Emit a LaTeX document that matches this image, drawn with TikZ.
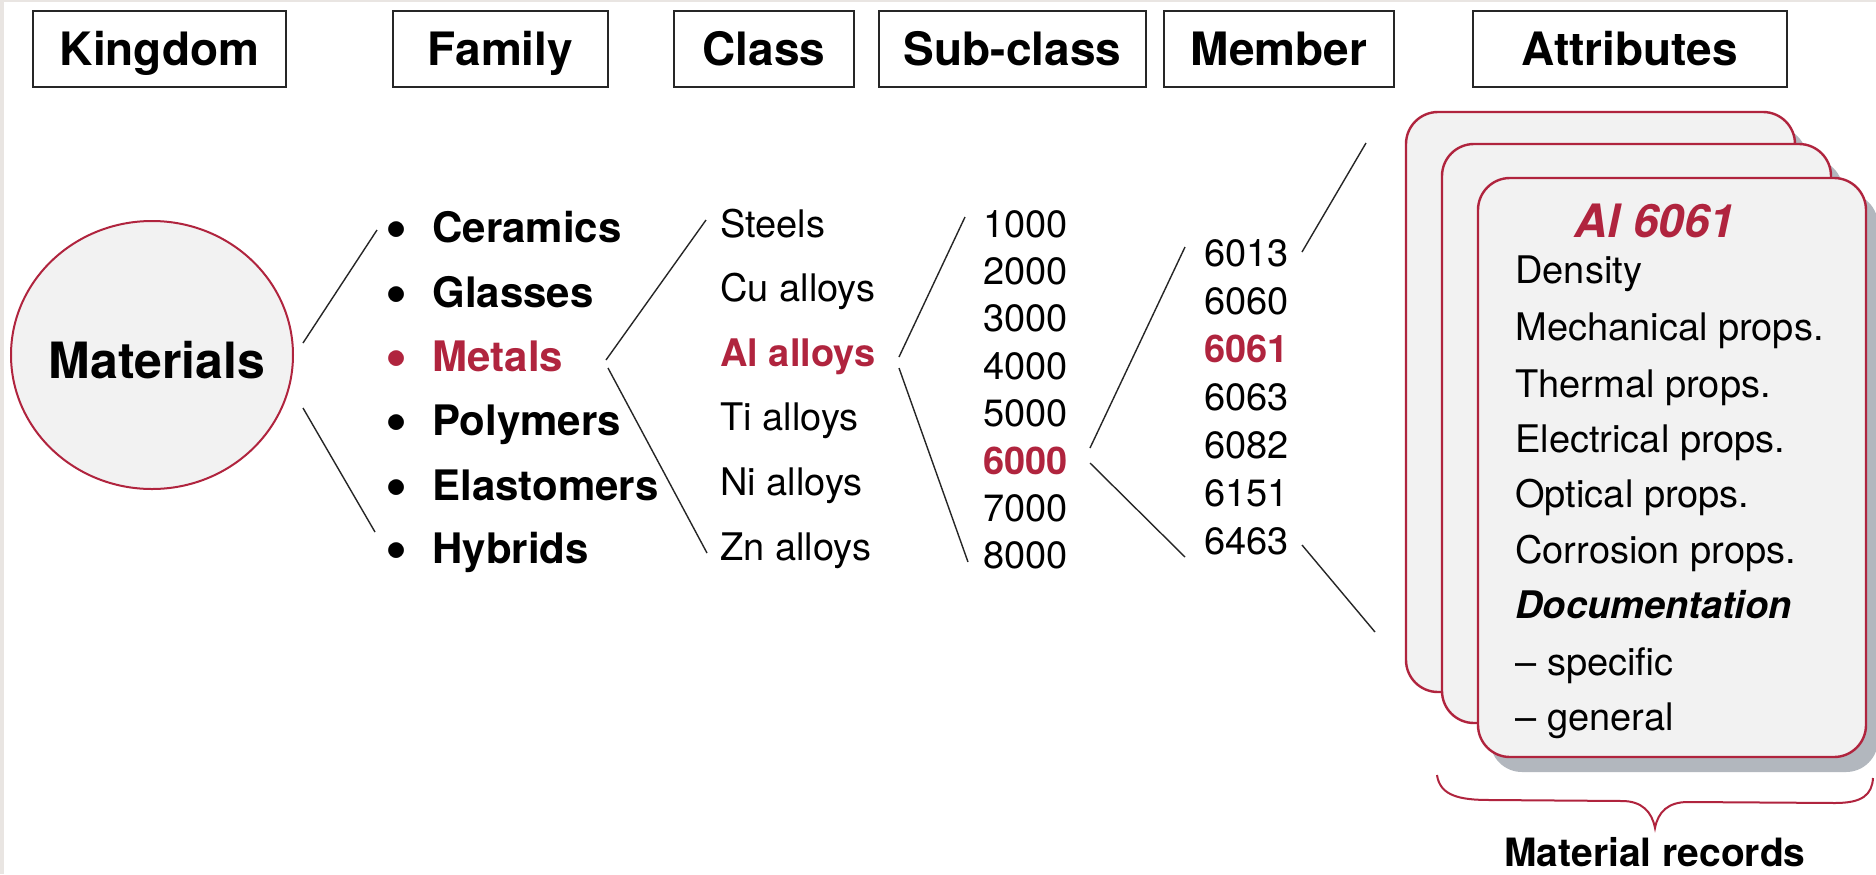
\documentclass[tikz,border=0pt]{standalone}
\usepackage{graphicx}
\usepackage{fontspec}
\setmainfont{TeX Gyre Heros}
\usetikzlibrary{shapes.geometric}

\definecolor{crimson}{RGB}{176,36,62}
\definecolor{cardfill}{RGB}{242,242,242}
\definecolor{cardshade}{RGB}{178,183,190}
\definecolor{edgegray}{RGB}{233,229,226}

% enlarged bullet hung to the left of a family name
\newcommand\famdot{\llap{\raisebox{-3.4pt}{\scalebox{1.5}{\textbullet}}\hspace{12.5pt}}}

\tikzset{
  header/.style={draw=black!85, line width=0.8pt, inner sep=0pt,
    minimum height=38pt, text height=16.5pt, text depth=0.5pt,
    font=\fontsize{23}{27}\selectfont\bfseries},
  link/.style={line width=0.7pt, draw=black!85},
  famtext/.style={anchor=base west, inner sep=0pt,
    font=\fontsize{21}{25}\selectfont\bfseries},
  item/.style={anchor=base west, inner sep=0pt,
    font=\fontsize{19}{23}\selectfont},
  pick/.style={text=crimson, font=\fontsize{19}{23}\selectfont\bfseries},
  card/.style={draw=crimson, line width=1.2pt, fill=cardfill,
    rounded corners=16pt, inner sep=0pt},
  shade/.style={fill=cardshade, rounded corners=16pt},
}

\begin{document}
\begin{tikzpicture}[x=0.5pt,y=-0.5pt]
\useasboundingbox (0,0) rectangle (1876,874);
\fill[white] (0,0) rectangle (1876,874);
\fill[edgegray] (0,0) rectangle (4,874);
\fill[edgegray] (0,0) rectangle (1876,2);

% ---- column headings
\node[header, minimum width=126.5pt] (hKingdom)  at (159.5,49) {Kingdom};
\node[header, minimum width=107.5pt] (hFamily)   at (500.5,49) {Family};
\node[header, minimum width=90pt]    (hClass)    at (764,49)   {Class};
\node[header, minimum width=133.5pt] (hSub)      at (1012.5,49){Sub-class};
\node[header, minimum width=115pt]   (hMember)   at (1279,49)  {Member};
\node[header, minimum width=157pt]   (hAttr)     at (1630,49)  {Attributes};

% ---- kingdom
\node[ellipse, draw=crimson, line width=1pt, fill=cardfill,
      minimum width=141pt, minimum height=134pt, inner sep=0pt] (mat) at (152,355) {};
\node[anchor=base, inner sep=0pt, font=\fontsize{25}{30}\selectfont\bfseries]
      (matname) at (157,378) {Materials};

% ---- families
\node[famtext] (cer) at (432,242) {\famdot Ceramics};
\node[famtext] (gla) at (432,307) {\famdot Glasses};
\node[famtext, text=crimson] (met) at (432,371) {\famdot Metals};
\node[famtext] (pol) at (432,435) {\famdot Polymers};
\node[famtext] (ela) at (432,500) {\famdot Elastomers};
\node[famtext] (hyb) at (432,563) {\famdot Hybrids};

% ---- classes
\node[item] (steel) at (720,237) {Steels};
\node[item] (cu)    at (720,301) {Cu alloys};
\node[item, pick] (al) at (720,366) {Al alloys};
\node[item] (ti)    at (720,430) {Ti alloys};
\node[item] (ni)    at (720,495) {Ni alloys};
\node[item] (zn)    at (720,560) {Zn alloys};

% ---- sub-classes
\node[item] (s1) at (983,237)   {1000};
\node[item] (s2) at (983,284.4) {2000};
\node[item] (s3) at (983,331.8) {3000};
\node[item] (s4) at (983,379.2) {4000};
\node[item] (s5) at (983,426.6) {5000};
\node[item, pick] (s6) at (983,474) {6000};
\node[item] (s7) at (983,521.4) {7000};
\node[item] (s8) at (983,568.8) {8000};

% ---- members
\node[item] (m1) at (1204,266) {6013};
\node[item] (m2) at (1204,314) {6060};
\node[item, pick] (m3) at (1204,362) {6061};
\node[item] (m4) at (1204,410) {6063};
\node[item] (m5) at (1204,458) {6082};
\node[item] (m6) at (1204,506) {6151};
\node[item] (m7) at (1204,554) {6463};

% ---- fan-out line ends
\coordinate (matHi) at (303,343);  \coordinate (famHi) at (377,230);
\coordinate (matLo) at (303,408);  \coordinate (famLo) at (375,532);
\coordinate (metHi) at (606,360);  \coordinate (clsHi) at (706,220);
\coordinate (metLo) at (608,368);  \coordinate (clsLo) at (707,553);
\coordinate (alHi)  at (899,357);  \coordinate (subHi) at (965,217);
\coordinate (alLo)  at (899,368);  \coordinate (subLo) at (968,562);
\coordinate (sixHi) at (1090,448); \coordinate (memHi) at (1185,247);
\coordinate (sixLo) at (1090,463); \coordinate (memLo) at (1185,557);
\coordinate (mTop)  at (1302,252); \coordinate (recHi) at (1366,143);
\coordinate (mBot)  at (1302,545); \coordinate (recLo) at (1375,632);

\draw[link] (matHi) -- (famHi);  \draw[link] (matLo) -- (famLo);
\draw[link] (metHi) -- (clsHi);  \draw[link] (metLo) -- (clsLo);
\draw[link] (alHi)  -- (subHi);  \draw[link] (alLo)  -- (subLo);
\draw[link] (sixHi) -- (memHi);  \draw[link] (sixLo) -- (memLo);
\draw[link] (mTop)  -- (recHi);  \draw[link] (mBot)  -- (recLo);

% ---- stacked material records
\begin{scope}
  \clip (1445,0) rectangle (1876,874);
  \fill[shade] (1418,127) rectangle (1807,707);
\end{scope}
\node[card, minimum width=194.5pt, minimum height=290pt] (recA) at (1600.5,402) {};
\begin{scope}
  \clip (1481,0) rectangle (1876,874);
  \fill[shade] (1454,159) rectangle (1843,738);
\end{scope}
\node[card, minimum width=194.5pt, minimum height=289.5pt] (recB) at (1636.5,433.5) {};
\fill[shade] (1490,193) rectangle (1878,772);
\node[card, minimum width=194pt, minimum height=289.5pt] (recC) at (1672,467.5) {};

\node[anchor=base, inner sep=0pt, text=crimson,
      font=\fontsize{23}{27}\selectfont\bfseries\itshape] (title) at (1655,237) {Al 6061};
\node[item] (a1) at (1515,283) {Density};
\node[item] (a2) at (1515,340) {Mechanical props.};
\node[item] (a3) at (1515,397) {Thermal props.};
\node[item] (a4) at (1515,452) {Electrical props.};
\node[item] (a5) at (1515,507) {Optical props.};
\node[item] (a6) at (1515,563) {Corrosion props.};
\node[item, font=\fontsize{19}{23}\selectfont\bfseries\itshape] (a7) at (1515,618) {Documentation};
\node[item] (a8) at (1515,675) {– specific};
\node[item] (a9) at (1515,730) {– general};

% ---- brace under the records
\draw[crimson, line width=1pt]
  (1437,775) .. controls (1440,796) and (1460,800) .. (1490,800)
  -- (1622,801) .. controls (1642,801) and (1652,812) .. (1655,828)
  .. controls (1658,812) and (1668,802) .. (1688,802)
  -- (1835,803) .. controls (1862,803) and (1872,795) .. (1873,778);
\node[anchor=base, inner sep=0pt, font=\fontsize{19.5}{23}\selectfont\bfseries]
      (recname) at (1655,866) {Material records};
\end{tikzpicture}
\end{document}
